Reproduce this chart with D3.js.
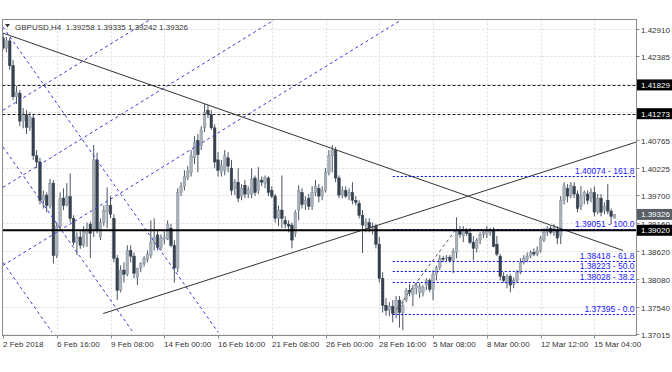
<!DOCTYPE html>
<html>
<head>
<meta charset="utf-8">
<script src="https://cdn.jsdelivr.net/npm/d3@7"></script>
<style>
  body { margin: 0; background: #fff; }
  text { font-family: "Liberation Sans", Arial, sans-serif; }
</style>
</head>
<body>
<svg id="chart" width="672" height="372"></svg>
<script>
// GBPUSD H4 bars (one value per bar)
const opens = [
  1.4274,1.4254,1.4268,1.4220,1.4160,1.4167,1.4113,1.4125,1.4101,1.4119,
  1.4046,1.4034,1.3960,1.3970,1.3950,1.3993,1.3853,1.3910,1.3964,1.3952,
  1.3967,1.3925,1.3879,1.3889,1.3873,1.3896,1.3914,1.3904,1.4038,1.3889,
  1.3917,1.3937,1.3950,1.3925,1.3848,1.3786,1.3825,1.3817,1.3863,1.3852,
  1.3811,1.3829,1.3838,1.3846,1.3854,1.3879,1.3893,1.3869,1.3885,1.3885,
  1.3906,1.3873,1.3829,1.3975,1.3987,1.4004,1.4014,1.4042,1.4076,1.4065,
  1.4100,1.4134,1.4125,1.4100,1.4038,1.4014,1.4018,1.4042,1.4022,1.3983,
  1.3995,1.3968,1.3989,1.3972,1.3972,1.4003,1.3979,1.3999,1.3993,1.4003,
  1.3979,1.3968,1.3925,1.3941,1.3921,1.3914,1.3912,1.3896,1.3941,1.3975,
  1.3952,1.3964,1.3948,1.3975,1.3983,1.3968,1.3979,1.4014,1.4046,1.4057,
  1.4003,1.3970,1.3979,1.3968,1.3975,1.3960,1.3954,1.3931,1.3912,1.3917,
  1.3906,1.3910,1.3875,1.3809,1.3757,1.3747,1.3755,1.3741,1.3767,1.3743,
  1.3767,1.3786,1.3778,1.3790,1.3782,1.3782,1.3796,1.3805,1.3788,1.3817,
  1.3830,1.3848,1.3848,1.3850,1.3844,1.3859,1.3902,1.3891,1.3902,1.3896,
  1.3879,1.3867,1.3883,1.3894,1.3894,1.3898,1.3902,1.3875,1.3852,1.3813,
  1.3801,1.3813,1.3798,1.3805,1.3821,1.3840,1.3846,1.3852,1.3859,1.3856,
  1.3863,1.3883,1.3898,1.3906,1.3898,1.3902,1.3891,1.3960,1.3983,1.3968,
  1.3987,1.3972,1.3948,1.3968,1.3972,1.3964,1.3975,1.3937,1.3964,1.3941,
  1.3960,1.3939,1.39258
];
const highs = [
  1.4283,1.4276,1.4274,1.4231,1.4181,1.4173,1.4138,1.4134,1.4130,1.4127,
  1.4057,1.4042,1.3979,1.3975,1.4001,1.3999,1.3917,1.3975,1.3983,1.3993,
  1.4012,1.3931,1.3898,1.3900,1.3910,1.3917,1.3919,1.4067,1.4052,1.3925,
  1.3950,1.3985,1.3968,1.3933,1.3854,1.3834,1.3840,1.3873,1.3873,1.3859,
  1.3825,1.3840,1.3852,1.3863,1.3921,1.3925,1.3904,1.3894,1.3900,1.3921,
  1.3914,1.3883,1.3983,1.3995,1.4018,1.4026,1.4057,1.4084,1.4088,1.4103,
  1.4146,1.4144,1.4134,1.4107,1.4053,1.4038,1.4057,1.4053,1.4038,1.4001,
  1.4022,1.3991,1.3999,1.3987,1.4022,1.4008,1.4024,1.4006,1.4008,1.4006,
  1.3987,1.3972,1.3950,1.4008,1.3929,1.3921,1.3917,1.3941,1.3989,1.3983,
  1.3968,1.3972,1.3987,1.3999,1.3991,1.3987,1.4022,1.4057,1.4067,1.4063,
  1.4008,1.3987,1.3987,1.3983,1.3995,1.3968,1.3960,1.3941,1.3925,1.3925,
  1.3917,1.3914,1.3889,1.3821,1.3771,1.3763,1.3767,1.3775,1.3775,1.3767,
  1.3790,1.3798,1.3796,1.3800,1.3800,1.3796,1.3809,1.3809,1.3825,1.3834,
  1.3854,1.3852,1.3854,1.3854,1.3867,1.3927,1.3910,1.3910,1.3906,1.3906,
  1.3891,1.3887,1.3898,1.3902,1.3910,1.3906,1.3908,1.3891,1.3856,1.3821,
  1.3817,1.3817,1.3811,1.3825,1.3848,1.3854,1.3859,1.3863,1.3867,1.3871,
  1.3891,1.3906,1.3910,1.3910,1.3914,1.3910,1.3968,1.3995,1.3991,1.3995,
  1.3995,1.3979,1.3987,1.3979,1.3979,1.3983,1.3987,1.3972,1.3972,1.3956,
  1.3991,1.3944,1.39335
];
const lows = [
  1.4250,1.4246,1.4212,1.4154,1.4146,1.4103,1.4099,1.4088,1.4094,1.4038,
  1.4022,1.3952,1.3944,1.3937,1.3944,1.3838,1.3848,1.3902,1.3941,1.3948,
  1.3917,1.3873,1.3854,1.3866,1.3869,1.3870,1.3848,1.3889,1.3896,1.3883,
  1.3910,1.3906,1.3925,1.3840,1.3767,1.3782,1.3801,1.3813,1.3840,1.3809,
  1.3796,1.3821,1.3832,1.3840,1.3848,1.3863,1.3863,1.3863,1.3875,1.3883,
  1.3869,1.3801,1.3821,1.3968,1.3979,1.3999,1.4006,1.4030,1.4014,1.4057,
  1.4092,1.4119,1.4096,1.4022,1.4006,1.4006,1.4008,1.4014,1.3970,1.3970,
  1.3956,1.3960,1.3964,1.3964,1.3964,1.3968,1.3972,1.3987,1.3983,1.3968,
  1.3964,1.3917,1.3910,1.3906,1.3906,1.3898,1.3867,1.3889,1.3921,1.3944,
  1.3941,1.3941,1.3941,1.3968,1.3956,1.3960,1.3975,1.4008,1.4014,1.3995,
  1.3964,1.3964,1.3964,1.3960,1.3952,1.3950,1.3925,1.3858,1.3898,1.3898,
  1.3894,1.3867,1.3801,1.3743,1.3737,1.3736,1.3724,1.3732,1.3714,1.3709,
  1.3763,1.3774,1.3755,1.3778,1.3771,1.3774,1.3786,1.3782,1.3767,1.3805,
  1.3825,1.3840,1.3842,1.3840,1.3819,1.3848,1.3887,1.3879,1.3891,1.3875,
  1.3844,1.3859,1.3875,1.3887,1.3887,1.3891,1.3869,1.3852,1.3805,1.3801,
  1.3790,1.3782,1.3790,1.3801,1.3817,1.3836,1.3840,1.3848,1.3852,1.3852,
  1.3859,1.3879,1.3891,1.3894,1.3891,1.3875,1.3875,1.3952,1.3956,1.3964,
  1.3964,1.3937,1.3941,1.3952,1.3952,1.3956,1.3929,1.3933,1.3929,1.3933,
  1.3933,1.3914,1.39242
];
const closes = [
  1.4254,1.4268,1.4220,1.4160,1.4169,1.4113,1.4127,1.4101,1.4121,1.4046,
  1.4034,1.3960,1.3970,1.3950,1.3993,1.3853,1.3910,1.3964,1.3950,1.3967,
  1.3925,1.3879,1.3889,1.3873,1.3900,1.3904,1.3896,1.4038,1.3904,1.3917,
  1.3941,1.3950,1.3933,1.3848,1.3786,1.3825,1.3817,1.3863,1.3852,1.3819,
  1.3829,1.3838,1.3848,1.3856,1.3879,1.3889,1.3869,1.3887,1.3889,1.3914,
  1.3873,1.3829,1.3975,1.3987,1.4006,1.4016,1.4046,1.4072,1.4048,1.4096,
  1.4130,1.4127,1.4100,1.4034,1.4018,1.4028,1.4046,1.4026,1.3979,1.3995,
  1.3964,1.3983,1.3972,1.3981,1.4001,1.3975,1.3999,1.3995,1.4004,1.3975,
  1.3968,1.3925,1.3941,1.3925,1.3914,1.3910,1.3883,1.3937,1.3979,1.3952,
  1.3960,1.3948,1.3975,1.3987,1.3968,1.3979,1.4014,1.4046,1.4057,1.4003,
  1.3970,1.3979,1.3968,1.3975,1.3960,1.3956,1.3931,1.3912,1.3917,1.3906,
  1.3910,1.3875,1.3809,1.3757,1.3747,1.3755,1.3741,1.3767,1.3743,1.3757,
  1.3786,1.3782,1.3790,1.3796,1.3794,1.3792,1.3805,1.3788,1.3817,1.3830,
  1.3848,1.3846,1.3850,1.3844,1.3861,1.3902,1.3894,1.3902,1.3896,1.3879,
  1.3867,1.3883,1.3894,1.3898,1.3904,1.3902,1.3871,1.3856,1.3813,1.3805,
  1.3813,1.3796,1.3805,1.3821,1.3840,1.3848,1.3852,1.3859,1.3856,1.3863,
  1.3887,1.3898,1.3906,1.3898,1.3906,1.3887,1.3960,1.3987,1.3968,1.3989,
  1.3972,1.3944,1.3968,1.3975,1.3960,1.3975,1.3937,1.3964,1.3937,1.3948,
  1.3939,1.3929,1.39326
];

// time axis labels, one every 16 bars
const timeLabels = ["2 Feb 2018", "6 Feb 16:00", "9 Feb 08:00", "14 Feb 00:00", "16 Feb 16:00",
  "21 Feb 08:00", "26 Feb 00:00", "28 Feb 16:00", "5 Mar 08:00", "8 Mar 00:00",
  "12 Mar 12:00", "15 Mar 04:00"];
const timeLabelBars = [0, 16, 32, 48, 64, 80, 96, 112, 128, 144, 160, 176];

// price scale ticks
const priceTicks = [1.42910, 1.42385, 1.41845, 1.41305, 1.40765, 1.40225, 1.39700,
  1.39160, 1.38620, 1.38080, 1.37540, 1.37015];

// horizontal levels
const dashedLevels = [1.41829, 1.41273];
const supportLevel = 1.39020;
const lastPrice = 1.39326;

// fibonacci retracement
const fibRatios = ["161.8", "100.0", "61.8", "50.0", "38.2", "0.0"];
const fibPrices = [1.40074, 1.39051, 1.38418, 1.38223, 1.38028, 1.37395];
const fibAnchors = [[116, 1.37395], [135, 1.39051]];

// drawn objects, as [bar, price] pairs
const trendLines = [
  [[0, 1.4283], [184.5, 1.3863]],
  [[29.8, 1.3741], [188.7, 1.4073]]
];
const channelLines = [
  [[0, 1.4134], [43.5, 1.4308]],
  [[0, 1.3985], [80.6, 1.4308]],
  [[0, 1.3834], [118.4, 1.4308]],
  [[0, 1.3840], [14.6, 1.3705]],
  [[0, 1.4063], [38.7, 1.3705]],
  [[0, 1.4295], [64.0, 1.3705]]
];

const header = ["GBPUSD,H4", "1.39258", "1.39335", "1.39242", "1.39326"];

const svg = d3.select('#chart');
const plotLeft = 2.5, plotRight = 636.5, plotTop = 19.5, plotBottom = 335.5;

const x = d3.scaleLinear().domain([0, 188.7]).range([3, 637]);
const y = d3.scaleLinear().domain([1.37015, 1.42910]).range([334, 29]);

svg.append('defs').append('clipPath').attr('id', 'plot')
  .append('rect')
  .attr('x', plotLeft).attr('y', plotTop)
  .attr('width', plotRight - plotLeft).attr('height', plotBottom - plotTop);

// grid
const grid = svg.append('g').attr('stroke', '#dcdcdc').attr('stroke-dasharray', '2,2');
timeLabelBars.slice(1).forEach(b => {
  grid.append('line')
    .attr('x1', Math.round(x(b)) + 0.5).attr('x2', Math.round(x(b)) + 0.5)
    .attr('y1', plotTop).attr('y2', plotBottom);
});
priceTicks.forEach(p => {
  grid.append('line')
    .attr('x1', plotLeft).attr('x2', plotRight)
    .attr('y1', Math.round(y(p)) + 0.5).attr('y2', Math.round(y(p)) + 0.5);
});

const plot = svg.append('g').attr('clip-path', 'url(#plot)');

// candles
const bars = d3.range(opens.length);
const bodyW = 2.6;
plot.append('g').selectAll('line')
  .data(bars).enter().append('line')
  .attr('x1', i => x(i)).attr('x2', i => x(i))
  .attr('y1', i => y(highs[i])).attr('y2', i => y(lows[i]))
  .attr('stroke', '#4a5562').attr('stroke-width', 1);
plot.append('g').selectAll('rect')
  .data(bars).enter().append('rect')
  .attr('x', i => x(i) - bodyW / 2)
  .attr('y', i => y(Math.max(opens[i], closes[i])))
  .attr('width', bodyW)
  .attr('height', i => Math.max(1, Math.abs(y(opens[i]) - y(closes[i]))))
  .attr('fill', i => closes[i] >= opens[i] ? '#a9b1ba' : '#36414f')
  .attr('stroke', i => closes[i] >= opens[i] ? '#8a939e' : '#36414f')
  .attr('stroke-width', 0.5);

// blue dashed channel lines
const seg = d3.line().x(d => x(d[0])).y(d => y(d[1]));
channelLines.forEach(l => {
  plot.append('path').attr('d', seg(l))
    .attr('fill', 'none').attr('stroke', '#3a3ad0')
    .attr('stroke-width', 1).attr('stroke-dasharray', '3,3');
});

// black trend lines
trendLines.forEach(l => {
  plot.append('path').attr('d', seg(l))
    .attr('fill', 'none').attr('stroke', '#333').attr('stroke-width', 1);
});

// horizontal dashed levels
dashedLevels.forEach(p => {
  plot.append('line')
    .attr('x1', plotLeft).attr('x2', plotRight)
    .attr('y1', Math.round(y(p)) + 0.5).attr('y2', Math.round(y(p)) + 0.5)
    .attr('stroke', '#222').attr('stroke-dasharray', '3,2');
});

// fibonacci levels
plot.append('path').attr('d', seg(fibAnchors))
  .attr('fill', 'none').attr('stroke', '#555').attr('stroke-dasharray', '3,3');
fibPrices.forEach((p, k) => {
  const yy = Math.round(y(p)) + 0.5;
  plot.append('line')
    .attr('x1', x(fibAnchors[0][0])).attr('x2', plotRight)
    .attr('y1', yy).attr('y2', yy)
    .attr('stroke', '#0000ff').attr('stroke-width', 1.2)
    .attr('stroke-dasharray', '2,2');
  svg.append('text')
    .attr('x', plotRight - 2).attr('y', yy - 3)
    .attr('text-anchor', 'end')
    .attr('font-size', 8.5).attr('fill', '#1a1aff')
    .text(p.toFixed(5) + ' - ' + fibRatios[k]);
});

// support level
plot.append('line')
  .attr('x1', plotLeft).attr('x2', plotRight)
  .attr('y1', y(supportLevel)).attr('y2', y(supportLevel))
  .attr('stroke', '#000').attr('stroke-width', 2);

// frame
svg.append('rect')
  .attr('x', plotLeft).attr('y', plotTop)
  .attr('width', plotRight - plotLeft).attr('height', plotBottom - plotTop)
  .attr('fill', 'none').attr('stroke', '#8c8c8c');

// price axis
const pax = svg.append('g');
priceTicks.forEach(p => {
  const yy = Math.round(y(p)) + 0.5;
  pax.append('line').attr('x1', plotRight).attr('x2', plotRight + 3)
    .attr('y1', yy).attr('y2', yy).attr('stroke', '#8c8c8c');
  pax.append('text').attr('x', 641).attr('y', yy + 3)
    .attr('font-size', 8).attr('fill', '#333')
    .text(p.toFixed(5));
});

// price boxes
function priceBox(p, fill) {
  const yy = y(p);
  svg.append('rect').attr('x', 637).attr('y', yy - 5.5)
    .attr('width', 35).attr('height', 11).attr('fill', fill);
  svg.append('text').attr('x', 641).attr('y', yy + 3)
    .attr('font-size', 8).attr('fill', '#fff').text(p.toFixed(5));
}
dashedLevels.forEach(p => priceBox(p, '#000'));
priceBox(lastPrice, '#5a5f66');
priceBox(supportLevel, '#000');

// time axis
const tax = svg.append('g');
timeLabelBars.forEach((b, k) => {
  const xx = Math.round(x(b)) + 0.5;
  tax.append('line').attr('x1', xx).attr('x2', xx)
    .attr('y1', plotBottom).attr('y2', plotBottom + 3).attr('stroke', '#8c8c8c');
  tax.append('text').attr('x', xx - 0.5).attr('y', 347)
    .attr('font-size', 8).attr('fill', '#333')
    .text(timeLabels[k]);
});

// header
svg.append('path').attr('d', 'M5,24 L10,24 L7.5,27.5 Z').attr('fill', '#333');
svg.append('text').attr('x', 15).attr('y', 29.5)
  .attr('font-size', 8).attr('fill', '#333')
  .attr('xml:space', 'preserve')
  .text(header[0] + '  ' + header.slice(1).join(' '));
</script>
</body>
</html>
